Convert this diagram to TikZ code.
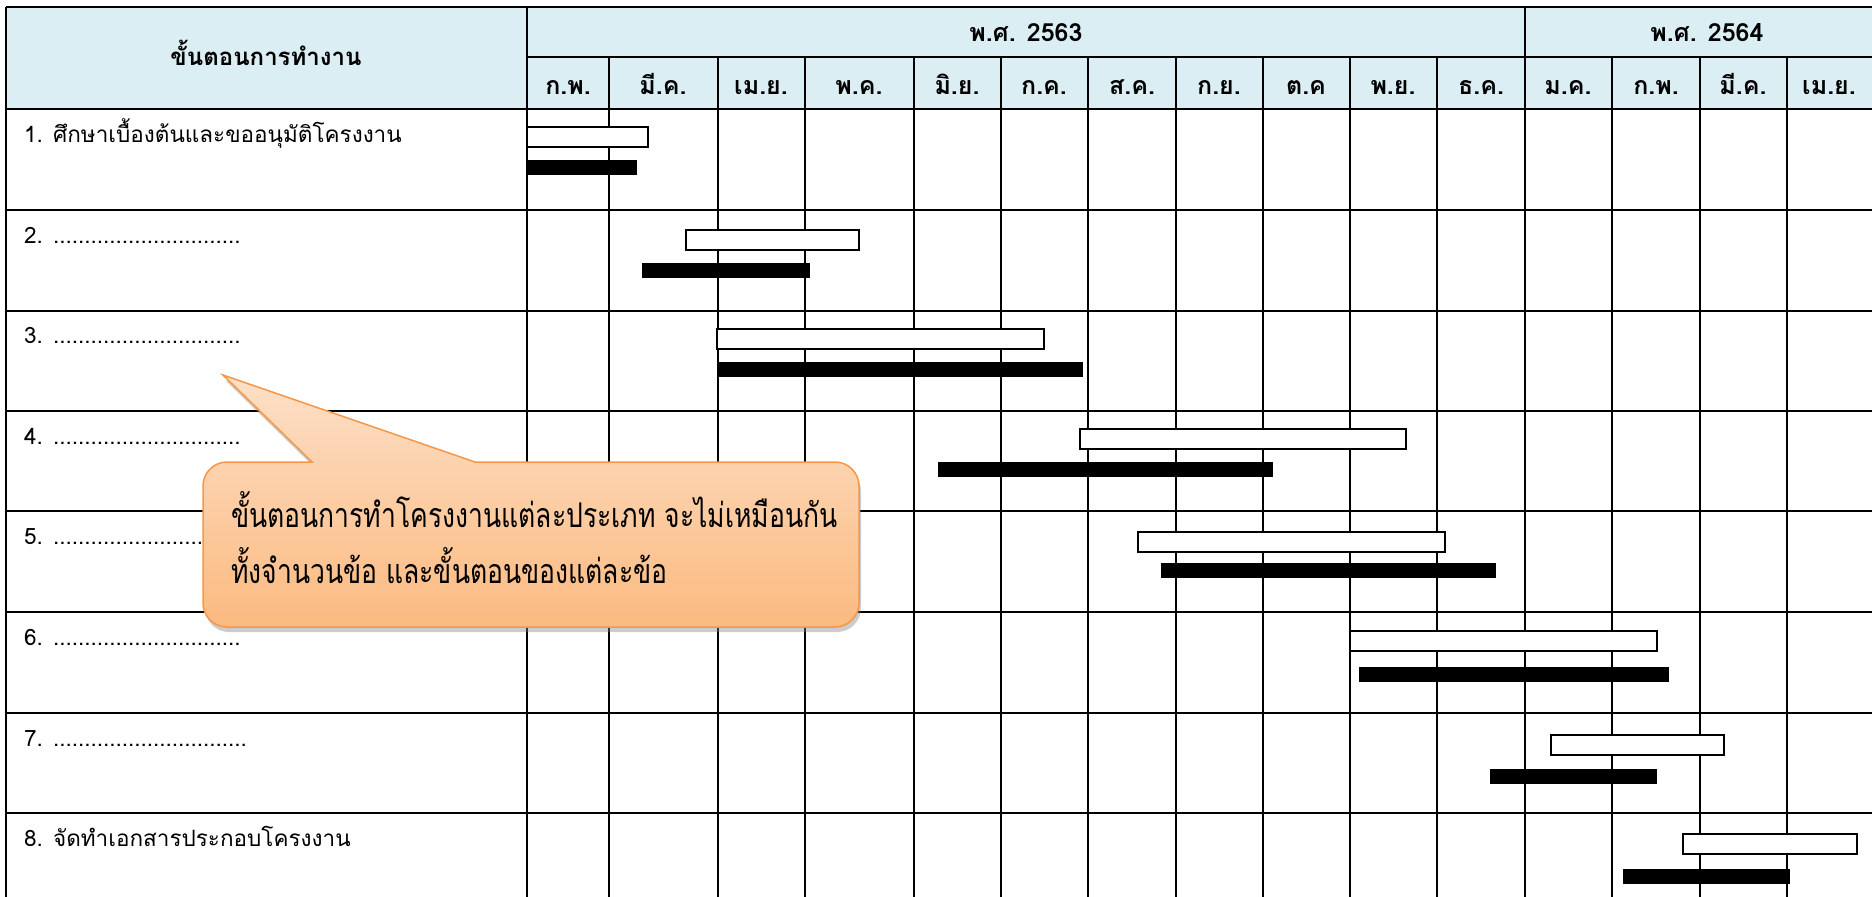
\documentclass[tikz,border=0pt]{standalone}
\usepackage{fontspec}
\newfontfamily\thaifont[Script=Thai]{Loma}
\newfontfamily\notefont[Script=Thai, FakeStretch=0.78]{Loma}
\usetikzlibrary{shadows}

\definecolor{headblue}{RGB}{219,238,244}
\definecolor{noteedge}{RGB}{247,150,70}
\definecolor{notetop}{RGB}{253,224,200}
\definecolor{notebottom}{RGB}{251,186,128}

\tikzset{
  gridline/.style={line width=1.8pt},
  planbar/.style={draw, line width=1.4pt, fill=white},
  actualbar/.style={fill=black},
  steplabel/.style={anchor=base west, inner sep=0pt, font=\thaifont\fontsize{22.5}{26}\selectfont},
  monthlabel/.style={anchor=base, inner sep=0pt, font=\thaifont\bfseries\fontsize{25}{28}\selectfont},
  notebox/.style={draw=noteedge, line width=1.5pt, top color=notetop, bottom color=notebottom,
    drop shadow={opacity=0.4, shadow xshift=2pt, shadow yshift=-5pt}},
  notetext/.style={anchor=base west, inner sep=0pt, font=\notefont\fontsize{34}{38}\selectfont},
}

\begin{document}
\begin{tikzpicture}[x=1pt,y=-1pt]
  \useasboundingbox (0,0) rectangle (1872,897);

  % Header background
  \fill[headblue] (6,7) rectangle (1874,109);

  % Grid
  \draw[gridline] (6,7) -- (1874,7);
  \draw[gridline] (527,57) -- (1874,57);
  \foreach \y in {109,210,311,411,511,612,713,813}
    \draw[gridline] (6,\y) -- (1874,\y);
  \foreach \x in {6,527,1525}
    \draw[gridline] (\x,7) -- (\x,897);
  \foreach \x in {609,718,805,914,1001,1088,1176,1263,1350,1437,1612,1700,1787}
    \draw[gridline] (\x,57) -- (\x,897);

  % Header texts
  \node[anchor=base, inner sep=0pt, font=\thaifont\bfseries\fontsize{24}{28}\selectfont]
    (steps) at (266,65) {ขั้นตอนการทำงาน};
  \node[monthlabel] (year63) at (1026,41) {พ.ศ. 2563};
  \node[monthlabel] (year64) at (1707,41) {พ.ศ. 2564};
  \foreach \x/\m [count=\i] in {568/ก.พ., 663/มี.ค., 761/เม.ย., 859/พ.ค., 957/มิ.ย.,
      1044/ก.ค., 1132/ส.ค., 1219/ก.ย., 1306/ต.ค, 1393/พ.ย., 1481/ธ.ค.,
      1568/ม.ค., 1656/ก.พ., 1743/มี.ค., 1829/เม.ย.}
    \node[monthlabel] (month\i) at (\x,94) {\m};

  % Step names
  \foreach \y/\t [count=\i] in {142/{1. ศึกษาเบื้องต้นและขออนุมัติโครงงาน},
      243/{2. ..............................}, 343/{3. ..............................},
      444/{4. ..............................}, 544/{5. ..............................},
      645/{6. ..............................}, 746/{7. ...............................},
      846/{8. จัดทำเอกสารประกอบโครงงาน}}
    \node[steplabel] (step\i) at (24,\y) {\t};

  % Planned (white) and actual (black) bars
  \foreach \pa/\pb/\py/\aa/\ab/\ay in {527/648/127/528/637/160, 686/859/230/642/810/263,
      717/1044/329/718/1083/362, 1080/1406/429/938/1273/462, 1138/1445/532/1161/1496/563,
      1350/1657/631/1359/1669/667, 1551/1724/735/1490/1657/769, 1683/1857/834/1623/1790/869}
  {
    \draw[planbar] (\pa,\py) rectangle (\pb,\py+20);
    \fill[actualbar] (\aa,\ay) rectangle (\ab,\ay+15);
  }

  % Callout
  \path[notebox] (223,375) -- (475,462) [rounded corners=24pt] -- (859,462) -- (859,627)
    -- (203,627) -- (203,462) [sharp corners] -- (312,462) -- cycle;
  \node[notetext] (note1) at (231,527) {ขั้นตอนการทำโครงงานแต่ละประเภท จะไม่เหมือนกัน};
  \node[notetext] (note2) at (231,583) {ทั้งจำนวนข้อ และขั้นตอนของแต่ละข้อ};
\end{tikzpicture}
\end{document}
